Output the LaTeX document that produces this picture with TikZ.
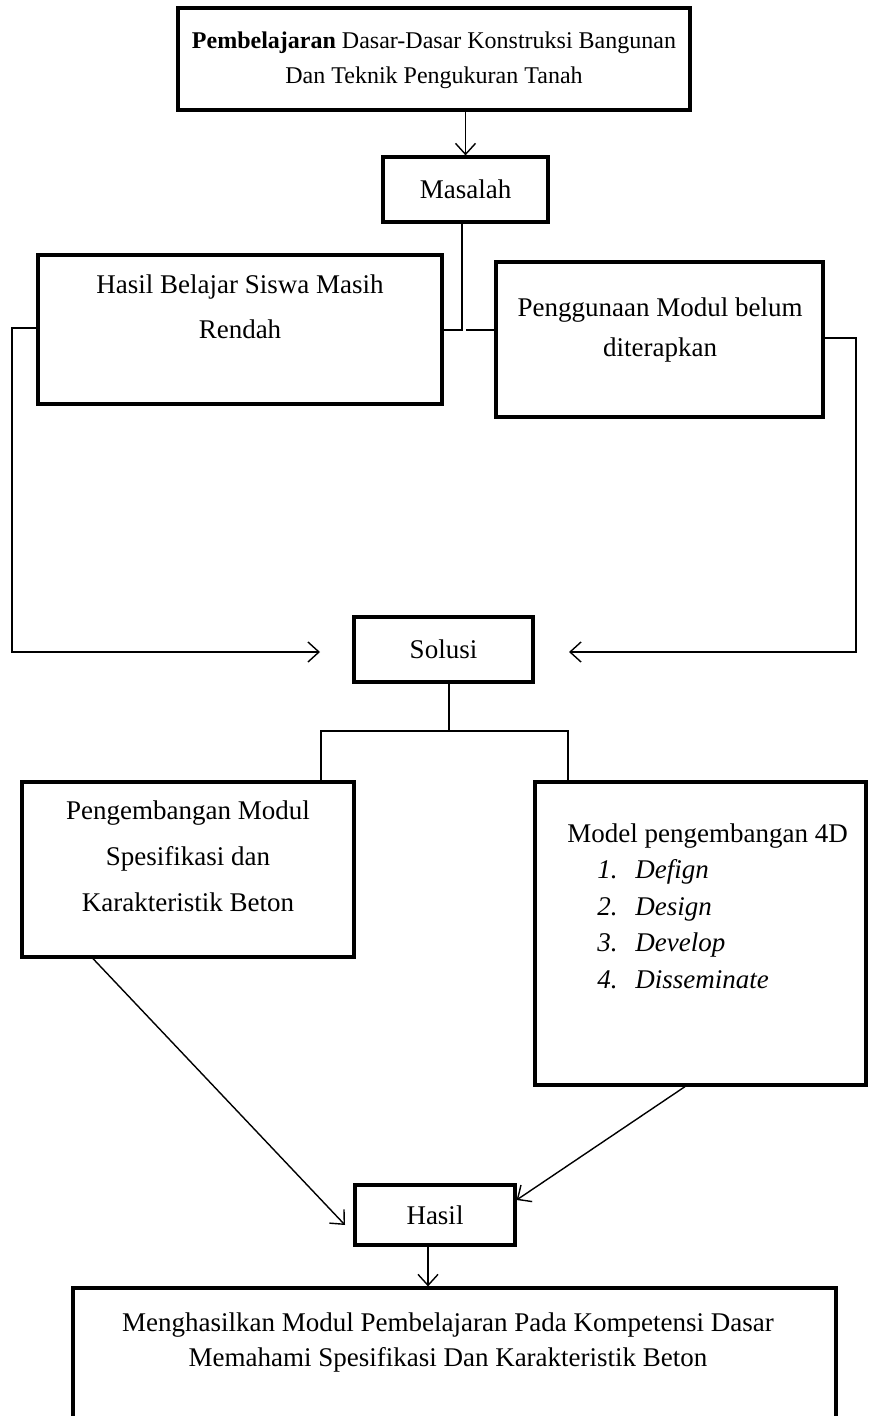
\documentclass[tikz,border=0pt]{standalone}
\usepackage{fontspec}
\setmainfont{Liberation Serif}
\usetikzlibrary{arrows.meta}

\begin{document}
\begin{tikzpicture}[x=0.5pt,y=-0.5pt,
        kotak/.style={draw,line width=1.6pt,inner sep=0pt},
        teks/.style={font=\fontsize{13.5}{17.5}\selectfont,align=center,inner sep=0pt},
        garis/.style={line width=0.7pt},
        panah/.style={garis,-{Straight Barb[length=5.5pt,width=10pt]}}]
        \clip (0,0) rectangle (868,1416);

        % kotak-kotak
        \node[kotak,minimum width=256pt,minimum height=51pt] (judul) at (434,59) {};
        \node[kotak,minimum width=82.5pt,minimum height=32.5pt] (masalah) at (465.5,189.5) {};
        \node[kotak,minimum width=202pt,minimum height=74.5pt] (belajar) at (240,329.5) {};
        \node[kotak,minimum width=163.5pt,minimum height=77.5pt] (modul) at (659.5,339.5) {};
        \node[kotak,minimum width=89.5pt,minimum height=32.5pt] (solusi) at (443.5,649.5) {};
        \node[kotak,minimum width=166pt,minimum height=87.5pt] (kembang) at (188,869.5) {};
        \node[kotak,minimum width=165.5pt,minimum height=151.5pt] (model) at (700.5,933.5) {};
        \node[kotak,minimum width=80pt,minimum height=30pt] (hasil) at (435,1215) {};
        \node[kotak,minimum width=381.5pt,minimum height=76pt] (akhir) at (454.5,1364) {};

        % tulisan di dalam kotak
        \node[teks,font=\fontsize{12}{17.5}\selectfont] (judultxt) at (434,60) {\textbf{Pembelajaran} Dasar-Dasar Konstruksi Bangunan\\Dan Teknik Pengukuran Tanah};
        \node[teks] (masalahtxt) at (masalah) {Masalah};
        \node[teks,font=\fontsize{13.5}{22.5}\selectfont] (belajartxt) at (240,307) {Hasil Belajar Siswa Masih\\Rendah};
        \node[teks,font=\fontsize{13.5}{20}\selectfont] (modultxt) at (660,330) {Penggunaan Modul belum\\diterapkan};
        \node[teks] (solusitxt) at (solusi) {Solusi};
        \node[teks,font=\fontsize{13.5}{23}\selectfont] (kembangtxt) at (188,856) {Pengembangan Modul\\Spesifikasi dan\\Karakteristik Beton};
        \node[teks,anchor=base west] (modeltxt) at (567,842) {Model pengembangan 4D};
        \foreach \n/\tahap in {1/Defign,2/Design,3/Develop,4/Disseminate}
                \node[teks,anchor=base west] (tahap\n) at (597,842+36.5*\n) {\makebox[19pt][l]{\textit{\n.}}\textit{\tahap}};
        \node[teks] (hasiltxt) at (hasil) {Hasil};
        \node[teks] (akhirtxt) at (448,1342) {Menghasilkan Modul Pembelajaran Pada Kompetensi Dasar\\Memahami Spesifikasi Dan Karakteristik Beton};

        % titik bantu
        \coordinate (cabang) at (462,330);
        \coordinate (kiri) at (12,652);
        \coordinate (kanan) at (856,652);
        \coordinate (bagi) at (449,731);

        % panah dan garis
        \draw[panah] (masalah.north |- judul.south) -- (masalah.north);
        \draw[garis] (masalah.south -| cabang) -- (cabang) -- (cabang -| belajar.east);
        \draw[garis] (466,330) -- (cabang -| modul.west);
        \draw[panah] (belajar.west |- 0,328) -| (kiri) -- (320,652);
        \draw[panah] (modul.east |- 0,338) -| (kanan) -- (569,652);
        \draw[garis] (solusi.south -| bagi) -- (bagi);
        \draw[garis] (kembang.north -| 321,0) |- (bagi) -| (model.north -| 568,0);
        \draw[panah] (kembang.south -| 93,0) -- (345,1225);
        \draw[panah] (model.south -| 685,0) -- (hasil.east |- 0,1200);
        \draw[panah] (hasil.south -| 428,0) -- (akhir.north -| 428,0);
\end{tikzpicture}
\end{document}
